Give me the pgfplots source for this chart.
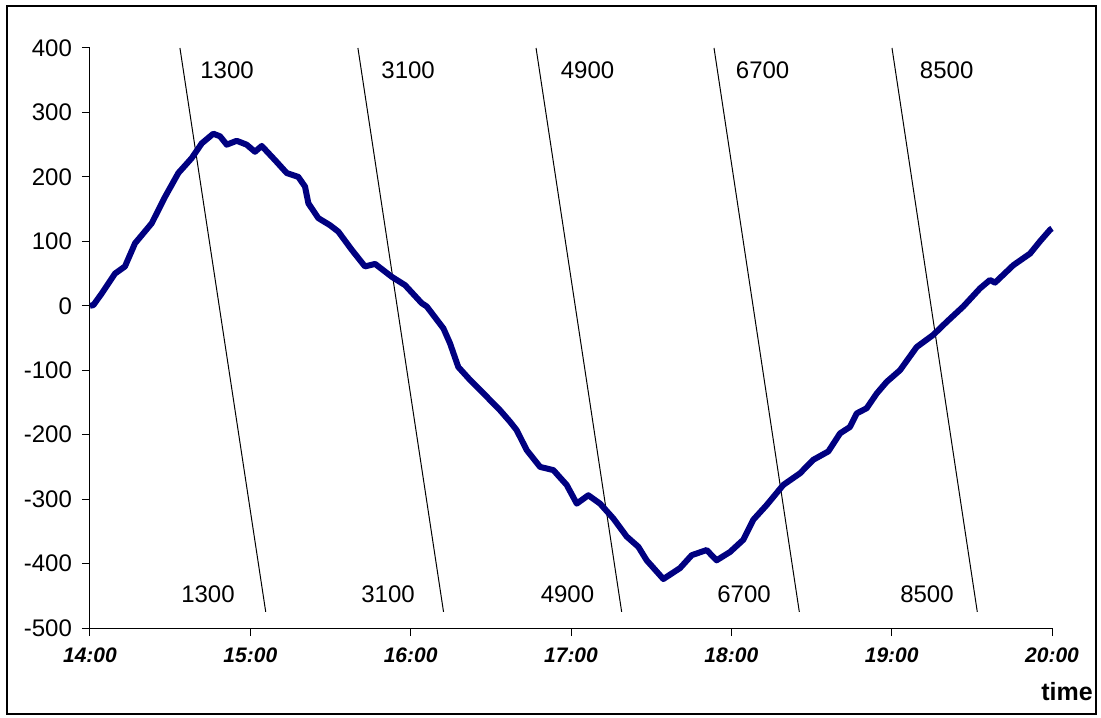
\documentclass[border=0pt]{standalone}
\usepackage{pgfplots}
\pgfplotsset{compat=1.18}
\usepackage{fontspec}
\setmainfont{Liberation Sans}
\definecolor{navy}{RGB}{0,0,128}
\begin{document}
\begin{tikzpicture}
\useasboundingbox (-45pt,-44.5pt) rectangle (505.5pt,314pt);
\draw[line width=1pt] (-41.5pt,-43pt) rectangle (503pt,311pt);
\begin{axis}[
  at={(0pt,0pt)}, anchor=south west,
  scale only axis, width=481pt, height=290pt,
  xmin=14, xmax=20, ymin=-500, ymax=400,
  axis x line*=bottom, axis y line*=left,
  axis line style={-, line width=0.5pt},
  tick align=outside, major tick length=4pt,
  tick style={black, line width=0.5pt},
  xtick={14,15,16,17,18,19,20},
  xticklabels={14:00,15:00,16:00,17:00,18:00,19:00,20:00},
  ytick={-500,-400,-300,-200,-100,0,100,200,300,400},
  yticklabels={-500,-400,-300,-200,-100,0,100,200,300,400},
  xticklabel style={font=\fontsize{10.5}{12}\selectfont\bfseries\itshape, yshift=-2.5pt},
  yticklabel style={font=\fontsize{12}{14}\selectfont, xshift=-1.5pt},
  xlabel={time},
  xlabel style={font=\fontsize{12.5}{14}\selectfont\bfseries, at={(axis description cs:1.0156,0)}, anchor=center, yshift=-32pt},
  clip=false,
]
% slanted reference lines
\addplot[black, line width=0.5pt] coordinates {(14.561,400) (15.096,-475)};
\addplot[black, line width=0.5pt] coordinates {(15.671,400) (16.205,-475)};
\addplot[black, line width=0.5pt] coordinates {(16.782,400) (17.316,-475)};
\addplot[black, line width=0.5pt] coordinates {(17.892,400) (18.424,-475)};
\addplot[black, line width=0.5pt] coordinates {(19.002,400) (19.534,-475)};
% measured curve
\addplot[navy, line width=3pt, line join=round] coordinates {
(14.000,0) (14.021,1) (14.073,19) (14.156,50) (14.218,61) (14.281,97)
(14.385,128) (14.468,169) (14.551,206) (14.634,229) (14.697,252) (14.769,267)
(14.811,263) (14.853,250) (14.915,256) (14.977,250) (15.029,239) (15.071,248)
(15.154,226) (15.227,206) (15.299,200) (15.341,185) (15.362,159) (15.424,136)
(15.497,125) (15.549,115) (15.632,87) (15.715,61) (15.778,65) (15.882,45)
(15.965,32) (16.069,4) (16.100,-1) (16.204,-35) (16.245,-58) (16.297,-95)
(16.370,-115) (16.474,-141) (16.557,-162) (16.620,-180) (16.661,-193) (16.724,-224)
(16.807,-250) (16.890,-255) (16.973,-278) (17.036,-307) (17.108,-294) (17.181,-307)
(17.264,-330) (17.347,-358) (17.420,-374) (17.472,-395) (17.576,-424) (17.680,-407)
(17.753,-387) (17.846,-379) (17.908,-395) (17.992,-382) (18.075,-363) (18.137,-332)
(18.221,-309) (18.324,-278) (18.428,-260) (18.511,-239) (18.605,-226) (18.678,-198)
(18.740,-188) (18.782,-167) (18.844,-159) (18.907,-136) (18.969,-118) (19.052,-100)
(19.156,-64) (19.260,-45) (19.343,-25) (19.447,-1) (19.551,27) (19.613,40)
(19.645,36) (19.759,63) (19.863,81) (19.925,100) (19.988,118) (20.000,120)
};
\foreach \xt/\xb/\lab in {14.855/14.736/1300, 15.984/15.859/3100, 17.103/16.978/4900, 18.195/18.079/6700, 19.343/19.220/8500}{
  \edef\tmp{\noexpand\node[font=\noexpand\fontsize{12}{14}\noexpand\selectfont] at (axis cs:\xt,366) {\lab};
    \noexpand\node[font=\noexpand\fontsize{12}{14}\noexpand\selectfont] at (axis cs:\xb,-447) {\lab};}
  \tmp
}
\end{axis}
\end{tikzpicture}
\end{document}
